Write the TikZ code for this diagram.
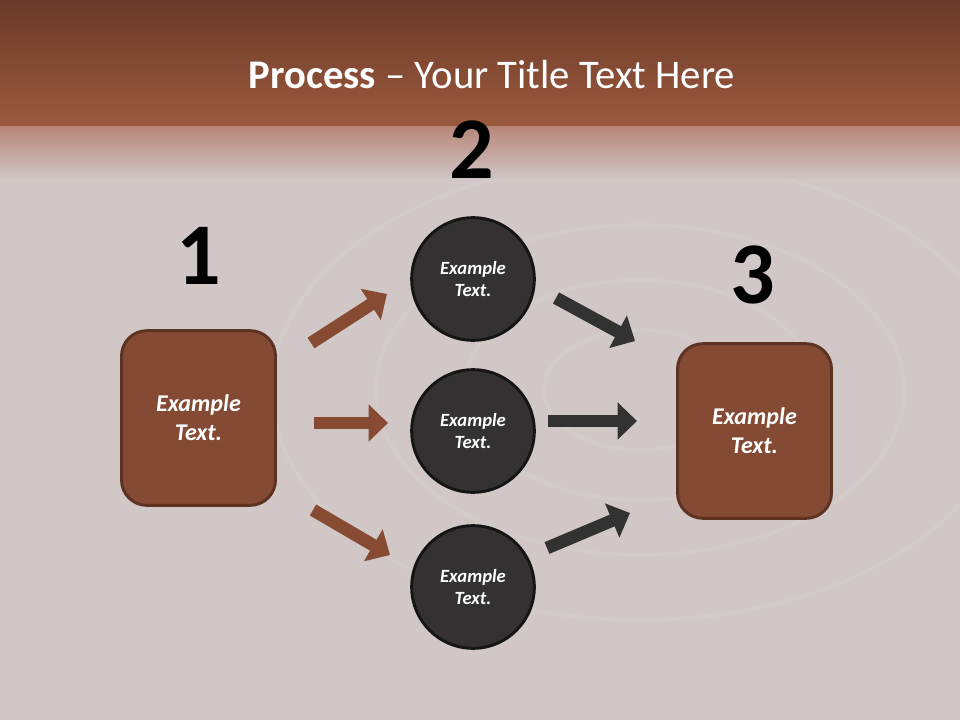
\documentclass[tikz,border=0pt]{standalone}
\usepackage{fontspec}
\setmainfont{Carlito}
\usetikzlibrary{arrows.meta}
\definecolor{bandtop}{HTML}{6B3A29}
\definecolor{bandlow}{HTML}{9C5A3E}
\definecolor{fadetop}{HTML}{B8877A}
\definecolor{bglight}{HTML}{D0C7C6}
\definecolor{boxfill}{HTML}{854A34}
\definecolor{boxline}{HTML}{5E3222}
\definecolor{discfill}{HTML}{333132}
\definecolor{discline}{HTML}{161515}
\definecolor{arrbrown}{HTML}{874A33}
\definecolor{arrdark}{HTML}{333232}

\begin{document}
\begin{tikzpicture}[x=0.75pt,y=-0.75pt,
  box/.style={draw=boxline,fill=boxfill,line width=2.2pt,rounded corners=19pt,
    minimum width=115.5pt,minimum height=131pt,text=white,align=center,
    font=\fontsize{18}{21.75}\selectfont\bfseries\itshape},
  disc/.style={circle,draw=discline,fill=discfill,line width=2.2pt,minimum size=92pt,
    text=white,align=center,font=\fontsize{14}{17}\selectfont\bfseries\itshape},
  bigno/.style={font=\fontsize{66}{66}\selectfont\bfseries},
  blockarrow/.style={line width=9.5pt,-{Triangle[length=14.5pt,width=27pt]}}]
  \useasboundingbox (0,0) rectangle (960,720);
  % background
  \fill[top color=bandtop,bottom color=bandlow] (0,0) rectangle (960,128);
  \fill[top color=fadetop,bottom color=bglight] (0,127) rectangle (960,180);
  \fill[bglight] (0,179) rectangle (960,720);
  \begin{scope}
    \clip (0,180) rectangle (960,720);
    \foreach \r in {60,110,165,230}
      \draw[white,opacity=0.07,line width=3pt] (640,390) ellipse ({\r*1.6} and \r);
  \end{scope}

  \node[text=white,font=\fontsize{30.5}{36}\selectfont] (title) at (492,75)
    {\textbf{Process} -- Your Title Text Here};

  \node[box]  (1)  at (198.5,418) {Example\\Text.};
  \node[disc] (2a) at (473,279)   {Example\\Text.};
  \node[disc] (2b) at (473,431)   {Example\\Text.};
  \node[disc] (2c) at (473,587)   {Example\\Text.};
  \node[box]  (3)  at (754.5,431) {Example\\Text.};

  \node[bigno] (n1) at (199,256) {1};
  \node[bigno] (n2) at (472,150) {2};
  \node[bigno] (n3) at (753,275) {3};

  \coordinate (a1) at (311,343); \coordinate (b1) at (387,294);
  \coordinate (a2) at (314,423); \coordinate (b2) at (388,423);
  \coordinate (a3) at (313,510); \coordinate (b3) at (390,555);
  \coordinate (c1) at (556,298); \coordinate (d1) at (635,341);
  \coordinate (c2) at (548,421); \coordinate (d2) at (637,421);
  \coordinate (c3) at (547,548); \coordinate (d3) at (630,513);

  \draw[blockarrow,arrbrown] (a1) -- (b1);
  \draw[blockarrow,arrbrown] (a2) -- (b2);
  \draw[blockarrow,arrbrown] (a3) -- (b3);
  \draw[blockarrow,arrdark]  (c1) -- (d1);
  \draw[blockarrow,arrdark]  (c2) -- (d2);
  \draw[blockarrow,arrdark]  (c3) -- (d3);
\end{tikzpicture}
\end{document}
